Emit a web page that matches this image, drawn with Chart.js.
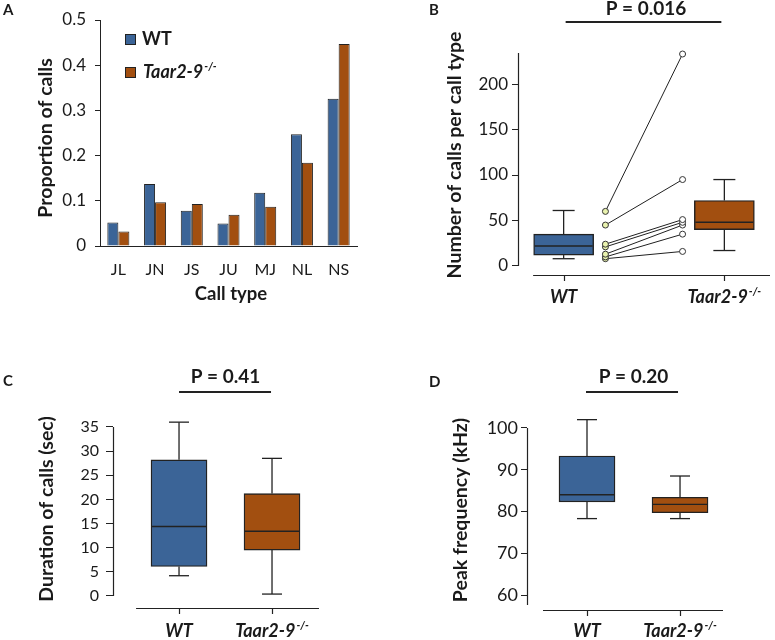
<!DOCTYPE html>
<html>
<head>
<meta charset="utf-8">
<script src="https://cdn.jsdelivr.net/npm/chart.js@4.4.1/dist/chart.umd.min.js"></script>
<style>
html,body{margin:0;padding:0;background:#fff;}
#wrap{position:relative;width:775px;height:640px;overflow:hidden;background:#fff;}
#wrap canvas{position:absolute;left:0;top:0;}
</style>
</head>
<body>
<div id="wrap">
<canvas id="cA" width="775" height="640"></canvas>
<canvas id="cB" width="775" height="640"></canvas>
<canvas id="cC" width="775" height="640"></canvas>
<canvas id="cD" width="775" height="640"></canvas>
</div>
<script>
// ---------------- data ----------------
const groupNames = ['WT', 'Taar2-9'];
const groupSup = '-/-';

// Panel A: proportion of calls per call type
const callTypes = ['JL', 'JN', 'JS', 'JU', 'MJ', 'NL', 'NS'];
const wtProportion   = [0.052, 0.137, 0.078, 0.050, 0.118, 0.247, 0.326];
const taarProportion = [0.032, 0.097, 0.093, 0.069, 0.087, 0.184, 0.447];

// Panel B: number of calls per call type (box plots + paired animals)
const bLow    = [8, 17];
const bQ1     = [12, 40];
const bMedian = [22, 48];
const bQ3     = [35, 72];
const bHigh   = [61, 95];
const bWtPoints   = [60, 45, 24, 21, 13, 10, 8];
const bTaarPoints = [233, 95, 51, 48, 45, 35, 16];
const bTicks = [0, 50, 100, 150, 200];
const bPValue = 'P = 0.016';

// Panel C: duration of calls (sec)
const cLow    = [4.2, 0.4];
const cQ1     = [6.1, 9.5];
const cMedian = [14.4, 13.4];
const cQ3     = [28.2, 21.2];
const cHigh   = [36, 28.5];
const cTicks = [0, 5, 10, 15, 20, 25, 30, 35];
const cPValue = 'P = 0.41';

// Panel D: peak frequency (kHz)
const dLow    = [78.3, 78.3];
const dQ1     = [82.3, 79.7];
const dMedian = [84.0, 81.7];
const dQ3     = [93.3, 83.4];
const dHigh   = [102, 88.5];
const dTicks = [60, 70, 80, 90, 100];
const dPValue = 'P = 0.20';

// ---------------- style ----------------
const FONT = 'Lato, "Open Sans", "DejaVu Sans", sans-serif';
const INK = '#1a1a1a';
const EDGE = '#222222';
const BLUE = '#3B6497';
const ORANGE = '#A24F10';
const PALE = '#E9F2AE';
const TITLE_SIZE = 19.5;

Chart.defaults.font.family = FONT;
Chart.defaults.color = INK;
Chart.defaults.animation = false;

function txt(ctx, s, x, y, size, o) {
  o = o || {};
  ctx.save();
  ctx.font = (o.italic ? 'italic ' : '') + (o.bold ? 'bold ' : '') + size + 'px ' + FONT;
  ctx.fillStyle = INK;
  ctx.textAlign = o.align || 'left';
  ctx.textBaseline = o.baseline || 'alphabetic';
  if (o.rotate) { ctx.translate(x, y); ctx.rotate(o.rotate); ctx.fillText(s, 0, 0); }
  else ctx.fillText(s, x, y);
  ctx.restore();
}
function supLabel(ctx, main, sup, x, y, size, align) {
  const mainFont = 'italic bold ' + size + 'px ' + FONT;
  const supSize = Math.round(size * 0.62);
  const supFont = 'italic bold ' + supSize + 'px ' + FONT;
  ctx.save();
  ctx.font = mainFont; const w1 = ctx.measureText(main).width;
  ctx.font = supFont; const w2 = ctx.measureText(sup).width;
  const x0 = align === 'center' ? x - (w1 + w2 + 1) / 2 : x;
  ctx.fillStyle = INK; ctx.textAlign = 'left'; ctx.textBaseline = 'alphabetic';
  ctx.font = mainFont; ctx.fillText(main, x0, y);
  ctx.font = supFont; ctx.fillText(sup, x0 + w1 + 1, y - size * 0.42);
  ctx.restore();
}
function seg(ctx, x1, y1, x2, y2, w, c) {
  ctx.save(); ctx.strokeStyle = c || EDGE; ctx.lineWidth = w || 1;
  ctx.beginPath(); ctx.moveTo(x1, y1); ctx.lineTo(x2, y2); ctx.stroke(); ctx.restore();
}

// ---------------- Panel A ----------------
new Chart(document.getElementById('cA'), {
  type: 'bar',
  data: {
    labels: callTypes,
    datasets: [
      { label: groupNames[0], data: wtProportion, backgroundColor: BLUE, borderColor: EDGE, borderWidth: 1, categoryPercentage: 0.6, barPercentage: 1.0 },
      { label: groupNames[1], data: taarProportion, backgroundColor: ORANGE, borderColor: EDGE, borderWidth: 1, categoryPercentage: 0.6, barPercentage: 1.0 }
    ]
  },
  options: {
    responsive: false,
    layout: { padding: { left: 0, top: 20, right: 775 - 357, bottom: 640 - 246 } },
    plugins: { legend: { display: false }, tooltip: { enabled: false } },
    scales: {
      x: {
        grid: { display: false, drawTicks: false },
        border: { display: true, color: EDGE, width: 1 },
        ticks: { display: false },
        afterFit: s => { s.height = 0; }
      },
      y: {
        min: 0, max: 0.5,
        ticks: { stepSize: 0.1, font: { size: 17 }, padding: 9, color: INK },
        grid: { display: true, drawOnChartArea: false, drawTicks: true, tickLength: 5, color: EDGE },
        border: { display: true, color: EDGE, width: 1 },
        afterFit: s => { s.width = 100; }
      }
    }
  },
  plugins: [{
    id: 'decorA',
    afterDraw(chart) {
      const ctx = chart.ctx, xs = chart.scales.x, a = chart.chartArea;
      // x-axis line slightly extended to the left like the original
      seg(ctx, a.left - 4, a.bottom + 0.5, a.left, a.bottom + 0.5, 1);
      // category labels
      chart.data.labels.forEach((lab, i) => {
        txt(ctx, lab, xs.getPixelForValue(i), a.bottom + 29, 16, { align: 'center' });
      });
      txt(ctx, 'A', 3, 15, 15, { bold: true });
      txt(ctx, 'Proportion of calls', 46, 138, TITLE_SIZE, { bold: true, align: 'center', baseline: 'middle', rotate: -Math.PI / 2 });
      txt(ctx, 'Call type', 231, 300, 18.5, { bold: true, align: 'center' });
      // legend
      const ds = chart.data.datasets;
      const rows = [34, 67];
      rows.forEach((ry, i) => {
        ctx.save();
        ctx.fillStyle = ds[i].backgroundColor;
        ctx.fillRect(125, ry, 11, 11);
        ctx.strokeStyle = EDGE; ctx.lineWidth = 1;
        ctx.strokeRect(125.5, ry + 0.5, 10, 10);
        ctx.restore();
      });
      txt(ctx, ds[0].label, 142, 45, 18, { bold: true });
      supLabel(ctx, ds[1].label, groupSup, 143, 78, 18, 'left');
    }
  }]
});

// ---------------- Box panels ----------------
function boxChart(id, p) {
  const datasets = [{
    type: 'bar',
    data: p.q1.map((v, i) => ({ x: i, y: [v, p.q3[i]] })),
    backgroundColor: [BLUE, ORANGE],
    borderColor: EDGE, borderWidth: 1.4, borderSkipped: false,
    barThickness: p.boxW, order: 3
  }].concat(p.extra || []);

  return new Chart(document.getElementById(id), {
    type: 'bar',
    data: { datasets },
    options: {
      responsive: false,
      layout: { padding: { left: 0, top: p.area.top, right: 775 - p.area.right, bottom: 640 - p.area.bottom } },
      plugins: { legend: { display: false }, tooltip: { enabled: false } },
      scales: {
        x: {
          type: 'linear', min: p.xMin, max: p.xMax, offset: false,
          grid: { display: false, drawTicks: false }, border: { display: false },
          ticks: { display: false },
          afterFit: s => { s.height = 0; }
        },
        y: {
          type: 'linear', min: p.yMin, max: p.yMax,
          afterBuildTicks: s => { s.ticks = p.ticks.map(v => ({ value: v })); },
          grid: { display: true, drawOnChartArea: false, drawTicks: true, tickLength: p.tickLen, color: EDGE, lineWidth: 1 },
          border: { display: false },
          ticks: { font: { size: p.tickSize }, padding: p.tickPad, color: INK },
          afterFit: s => { s.width = p.area.left; }
        }
      }
    },
    plugins: [{
      id: 'decor' + id,
      afterDatasetsDraw(chart) {
        const ctx = chart.ctx, xs = chart.scales.x, ys = chart.scales.y;
        p.q1.forEach((_, i) => {
          const cx = xs.getPixelForValue(i);
          const yh = ys.getPixelForValue(p.high[i]);
          const yl = ys.getPixelForValue(p.low[i]);
          const y3 = ys.getPixelForValue(p.q3[i]);
          const y1 = ys.getPixelForValue(p.q1[i]);
          const ym = ys.getPixelForValue(p.median[i]);
          seg(ctx, cx, y3, cx, yh, 1.3);
          seg(ctx, cx, y1, cx, yl, 1.3);
          seg(ctx, cx - p.capW / 2, yh, cx + p.capW / 2, yh, 1.3);
          seg(ctx, cx - p.capW / 2, yl, cx + p.capW / 2, yl, 1.3);
          seg(ctx, cx - p.boxW / 2 + 1, ym, cx + p.boxW / 2 - 1, ym, 1.4);
        });
      },
      afterDraw(chart) {
        const ctx = chart.ctx, xs = chart.scales.x, ys = chart.scales.y, a = chart.chartArea;
        // axes
        seg(ctx, a.left + 0.5, ys.getPixelForValue(p.yLine[0]), a.left + 0.5, ys.getPixelForValue(p.yLine[1]), 1.2);
        seg(ctx, xs.getPixelForValue(p.xLine[0]), a.bottom + 0.5, xs.getPixelForValue(p.xLine[1]), a.bottom + 0.5, 1.2);
        [0, 1].forEach(i => {
          const cx = Math.round(xs.getPixelForValue(i)) + 0.5;
          seg(ctx, cx, a.bottom, cx, a.bottom + 6, 1.2);
        });
        // category labels
        txt(ctx, groupNames[0], xs.getPixelForValue(0), p.labelY, 18, { bold: true, italic: true, align: 'center' });
        supLabel(ctx, groupNames[1], groupSup, xs.getPixelForValue(1), p.labelY, 18, 'center');
        // P value and bar
        const px0 = xs.getPixelForValue(0), px1 = xs.getPixelForValue(1);
        txt(ctx, p.pText, (px0 + px1) / 2 + p.pShift, p.pY, 19, { bold: true, align: 'center' });
        seg(ctx, px0 + p.barInset[0], p.pBarY, px1 - p.barInset[1], p.pBarY, 2);
        // titles
        txt(ctx, p.title, p.titleX, p.titleY, TITLE_SIZE, { bold: true, align: 'center', baseline: 'middle', rotate: -Math.PI / 2 });
        txt(ctx, p.letter, p.letterX, p.letterY, 15, { bold: true });
      }
    }]
  });
}

// Panel B
const pairX = [0.26, 0.74];
const pairSets = bWtPoints.map((v, i) => ({
  type: 'line',
  data: [{ x: pairX[0], y: v }, { x: pairX[1], y: bTaarPoints[i] }],
  borderColor: '#202020', borderWidth: 1,
  pointRadius: 3, pointBackgroundColor: [PALE, '#ffffff'],
  pointBorderColor: '#333333', pointBorderWidth: 1,
  order: 1, clip: false, fill: false
}));

boxChart('cB', {
  low: bLow, q1: bQ1, median: bMedian, q3: bQ3, high: bHigh, ticks: bTicks,
  extra: pairSets,
  area: { left: 518, right: 772, top: 53, bottom: 275 },
  xMin: -0.284, xMax: 1.284, yMin: -9.9, yMax: 234.1,
  yLine: [0, 234.1], xLine: [-0.19, 1.284],
  boxW: 60, capW: 22, tickSize: 17, tickPad: 4, tickLen: 6,
  labelY: 303, pText: bPValue, pY: 15, pShift: 2, pBarY: 22, barInset: [2, 3],
  title: 'Number of calls per call type', titleX: 455, titleY: 155,
  letter: 'B', letterX: 429, letterY: 15
});

// Panel C
boxChart('cC', {
  low: cLow, q1: cQ1, median: cMedian, q3: cQ3, high: cHigh, ticks: cTicks,
  area: { left: 113, right: 320, top: 415, bottom: 608 },
  xMin: -0.710, xMax: 1.516, yMin: -2.485, yMax: 37.48,
  yLine: [0, 35], xLine: [-0.462, 1.505],
  boxW: 56, capW: 20, tickSize: 16, tickPad: 7, tickLen: 7,
  labelY: 637, pText: cPValue, pY: 383, pShift: 0, pBarY: 392, barInset: [0, 1],
  title: 'Duration of calls (sec)', titleX: 47, titleY: 509,
  letter: 'C', letterX: 3, letterY: 386
});

// Panel D
boxChart('cD', {
  low: dLow, q1: dQ1, median: dMedian, q3: dQ3, high: dHigh, ticks: dTicks,
  area: { left: 527, right: 723, top: 412, bottom: 610 },
  xMin: -0.645, xMax: 1.462, yMin: 56.41, yMax: 103.83,
  yLine: [57.6, 100], xLine: [-0.473, 1.462],
  boxW: 56, capW: 20, tickSize: 18, tickPad: 3, tickLen: 6,
  labelY: 637, pText: dPValue, pY: 383, pShift: 0, pBarY: 392, barInset: [-1, 2],
  title: 'Peak frequency (kHz)', titleX: 461, titleY: 510,
  letter: 'D', letterX: 429, letterY: 387
});
</script>
</body>
</html>
